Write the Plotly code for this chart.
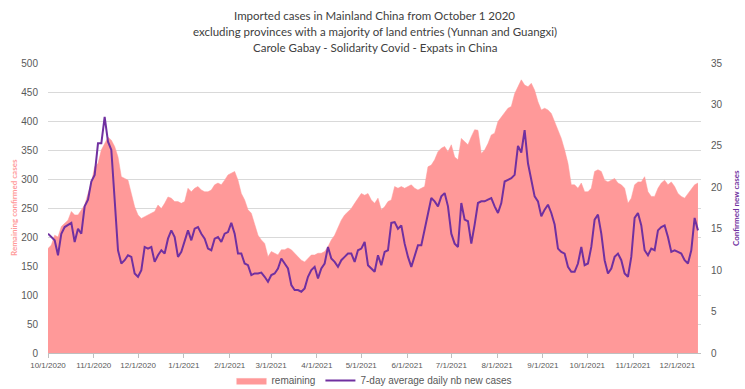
import pandas as pd
import plotly.graph_objects as go

# ---- data ----
start_date = "2020-10-01"
step_days = 2.2561          # sampling interval of the values below
x_end = "2021-12-17"

remaining = [
    180, 186, 203, 200, 218, 224, 229, 244, 238, 238, 247, 255, 275, 293, 321, 327, 350, 361, 372, 367,
    356, 338, 304, 301, 298, 275, 252, 238, 232, 235, 238, 241, 244, 255, 249, 258, 269, 267, 261,
    261, 258, 261, 284, 278, 284, 287, 281, 278, 278, 281, 290, 293, 290, 298, 307, 310, 313, 298, 275,
    264, 247, 241, 221, 203, 195, 189, 166, 175, 172, 169, 178, 178, 181, 178, 172, 166, 160, 157,
    163, 169, 169, 172, 172, 175, 183, 195, 203, 215, 229, 238, 244, 249, 258, 267, 275, 272, 275,
    264, 258, 267, 247, 252, 261, 264, 287, 284, 287, 284, 287, 290, 284, 281, 284, 287, 321, 324, 333,
    347, 353, 356, 347, 359, 338, 333, 370, 364, 359, 373, 385, 384, 344, 350, 361, 376, 379, 399,
    407, 413, 422, 425, 447, 459, 471, 462, 459, 465, 453, 433, 419, 422, 419, 413, 399, 385, 370, 350,
    327, 290, 290, 284, 293, 278, 278, 284, 313, 316, 313, 298, 295, 298, 301, 293, 290, 284, 258,
    267, 290, 295, 295, 304, 278, 270, 270, 284, 293, 298, 290, 295, 287, 275, 270, 267, 275, 281,
    290, 293,
]

avg7 = [
    14.4, 14.0, 13.6, 11.8, 14.4, 15.2, 15.4, 15.7, 13.4, 15.0, 14.4, 17.7, 18.5, 20.7, 21.5, 25.3,
    25.3, 28.5, 25.5, 24.5, 18.5, 12.4, 10.8, 11.2, 11.8, 11.6, 9.6, 9.2, 10.0, 12.8, 12.6, 12.8,
    11.0, 11.8, 12.4, 12.0, 13.8, 14.8, 14.0,
    11.6, 12.2, 13.6, 14.8, 13.6, 15.0, 15.2, 14.4, 13.8, 12.6, 12.4, 13.8, 14.0, 13.4, 14.4, 14.6,
    15.7, 14.4, 12.0, 12.0, 10.8, 10.6, 9.4, 9.6, 9.6, 9.7, 9.2, 8.6, 9.4, 9.6, 10.2, 11.4, 10.8,
    10.2, 8.2, 7.6, 7.6, 7.4, 7.8,
    9.2, 10.0, 10.4, 9.0, 10.2, 10.8, 12.8, 11.4, 11.0, 10.4, 11.2, 11.6, 12.0, 12.0, 11.0, 12.4,
    12.6, 13.4, 10.6, 10.2, 9.8, 11.8, 10.6, 12.2, 12.4, 15.7, 15.8, 15.0, 15.4, 13.2, 11.6, 10.4,
    11.8, 13.0, 13.0, 15.0, 16.9, 18.7, 18.3,
    17.7, 18.9, 19.3, 17.7, 14.4, 13.2, 12.8, 18.1, 16.1, 15.9, 13.2, 15.5, 18.1, 18.3, 18.3, 18.5,
    18.7, 17.7, 16.9, 18.1, 20.7, 20.9, 21.1, 21.5, 25.0, 24.2, 26.9, 22.9, 20.9, 18.9, 18.3, 16.5,
    17.3, 17.9, 16.9, 15.5, 12.6, 12.2, 12.0,
    10.4, 9.8, 9.8, 10.8, 12.8, 10.6, 10.8, 12.8, 16.1, 16.7, 14.4, 11.2, 9.6, 10.2, 11.6, 12.0,
    11.2, 9.6, 9.2, 11.6, 16.3, 16.9, 15.4, 12.4, 11.8, 12.6, 12.4, 14.8, 15.2, 15.4, 14.0, 12.2,
    12.4, 12.2, 12.0, 11.2, 10.8, 12.4, 16.3, 14.8,
]

title_lines = [
    "Imported cases in Mainland China from October 1 2020",
    "excluding provinces with a majority of land entries (Yunnan and Guangxi)",
    "Carole Gabay - Solidarity Covid - Expats in China",
]
left_title = "Remaining confirmed cases"
right_title = "Confirmed new cases"
series_names = ["remaining", "7-day average daily nb new cases"]

start = pd.Timestamp(start_date)
dates = [start + pd.Timedelta(days=step_days * i) for i in range(len(remaining))]

AREA = "rgb(255,153,153)"
PURPLE = "#7030A0"
GRAY = "#595959"

fig = go.Figure()
fig.add_trace(go.Scatter(
    x=dates, y=remaining, name=series_names[0], mode="lines",
    fill="tozeroy", fillcolor=AREA, line=dict(color=AREA, width=0.5),
    yaxis="y", hoverinfo="skip",
))
fig.add_trace(go.Scatter(
    x=dates, y=avg7, name=series_names[1], mode="lines",
    line=dict(color=PURPLE, width=2), yaxis="y2",
))

fig.update_layout(
    width=745, height=389,
    margin=dict(l=48, r=44, t=63, b=36, autoexpand=False),
    paper_bgcolor="white", plot_bgcolor="white",
    font=dict(family="Liberation Sans, Arial, sans-serif", color=GRAY),
    showlegend=True,
    legend=dict(orientation="h", x=0.5, xanchor="center",
                yref="container", y=0.022, yanchor="middle",
                bgcolor="rgba(0,0,0,0)",
                font=dict(size=10, color=GRAY), itemwidth=30),
    xaxis=dict(
        type="date", range=[start_date, x_end], automargin=False,
        tick0=start_date, dtick="M1", tickformat="%-m/%-d/%Y",
        tickfont=dict(size=8, color=GRAY),
        showgrid=False, showline=True, linecolor="#BFBFBF", linewidth=1,
        ticks="outside", ticklen=4, tickcolor="#BFBFBF",
    ),
    yaxis=dict(
        range=[0, 500], dtick=50, showgrid=True, gridcolor="#D9D9D9", gridwidth=1,
        zeroline=False, tickfont=dict(size=10, color=GRAY), ticklabelstandoff=9,
        automargin=False,
    ),
    yaxis2=dict(
        range=[0, 35], dtick=5, overlaying="y", side="right", showgrid=False,
        zeroline=False, tickfont=dict(size=10, color=GRAY), ticklabelstandoff=9,
        automargin=False,
    ),
)

annotations = []
for i, t in enumerate(title_lines):
    annotations.append(dict(
        text=t, xref="paper", yref="paper", x=0.5, y=1, yshift=48 - 16 * i,
        xanchor="center", yanchor="middle", showarrow=False,
        font=dict(family="Lato, sans-serif", size=11.5, color="#404040"),
    ))
annotations.append(dict(
    text=left_title, xref="paper", yref="paper", x=0, xshift=-34, y=0.5,
    textangle=-90, showarrow=False, xanchor="center", yanchor="middle",
    font=dict(family="Lato, sans-serif", size=8, color=AREA, weight="bold"),
))
annotations.append(dict(
    text=right_title, xref="paper", yref="paper", x=1, xshift=35, y=0.5,
    textangle=-90, showarrow=False, xanchor="center", yanchor="middle",
    font=dict(family="Lato, sans-serif", size=8, color=PURPLE, weight="bold"),
))
fig.update_layout(annotations=annotations)

fig.write_html("out.html", config={"displayModeBar": False},
               post_script="document.body.style.margin='0';")
